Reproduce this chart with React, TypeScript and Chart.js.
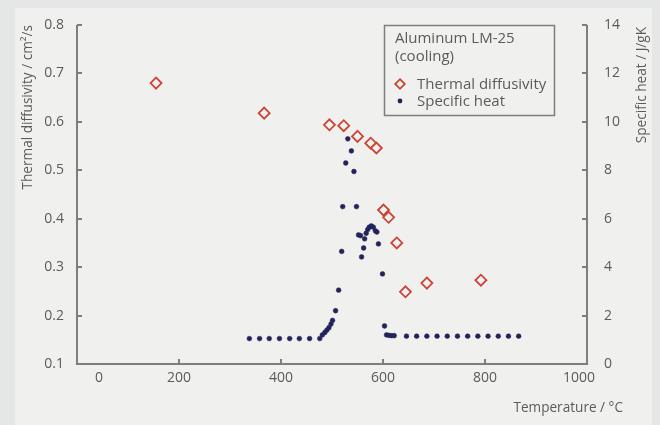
import React, { useEffect, useRef, useState } from "react";
import { Chart, registerables } from "chart.js";

Chart.register(...registerables);

// ---- data ----
const diffusivityTemps = [155, 367, 495, 523, 550, 576, 587, 601, 611, 627, 644, 686, 792];
const diffusivityValues = [0.68, 0.618, 0.594, 0.592, 0.57, 0.556, 0.546, 0.418, 0.403, 0.35, 0.249, 0.267, 0.273];

const heatTemps = [
  338, 358, 377, 397, 417, 436, 456, 476,
  481, 486, 490, 494, 498, 501, 507, 513, 519, 521, 527, 531, 538, 543, 548,
  552, 556, 558, 562, 564, 567, 570, 573, 577, 581, 585, 588, 591, 599,
  603, 607, 612, 617, 622,
  646, 666, 686, 706, 726, 746, 766, 786, 806, 826, 846, 866,
];
const heatValues = [
  1.05, 1.05, 1.05, 1.05, 1.05, 1.05, 1.05, 1.05,
  1.2, 1.3, 1.4, 1.5, 1.65, 1.8, 2.2, 3.05, 4.65, 6.5, 8.3, 9.3, 8.8, 7.95, 6.5,
  5.33, 5.3, 4.42, 4.79, 5.17, 5.4, 5.55, 5.65, 5.7, 5.65, 5.5, 5.45, 4.96, 3.72,
  1.57, 1.2, 1.18, 1.17, 1.17,
  1.15, 1.15, 1.15, 1.15, 1.15, 1.15, 1.15, 1.15, 1.15, 1.15, 1.15, 1.15,
];

const xTickValues = [0, 200, 400, 600, 800, 1000];
const xTickLabels = ["0", "200", "400", "600", "800", "1000"];
const yTickValues = [0.1, 0.2, 0.3, 0.4, 0.5, 0.6, 0.7, 0.8];
const y2TickValues = [0, 2, 4, 6, 8, 10, 12, 14];

const legendTitle = ["Aluminum LM-25", "(cooling)"];
const diffusivityLabel = "Thermal diffusivity";
const heatLabel = "Specific heat";
const xTitle = "Temperature / °C";
const yTitle = "Thermal diffusivity / cm²/s";
const y2Title = "Specific heat / J/gK";

// ---- styles ----
const FONT = '"Open Sans", "DejaVu Sans", sans-serif';
const TEXT = "#5b5b5b";
const AXIS = "#7e7e7e";
const RED = "#cc4436";
const NAVY = "#23235c";
const PANEL = "#f0f0ee";

type Geom = { L: number; R: number; T: number; B: number; xt: number[]; yt: number[]; y2t: number[] };

const measure = (chart: any): Geom => {
  const a = chart.chartArea;
  const sc = chart.scales;
  return {
    L: Math.round(a.left),
    R: Math.round(a.right),
    T: Math.round(a.top),
    B: Math.round(a.bottom),
    xt: xTickValues.map((v) => Math.round(sc.x.getPixelForValue(v))),
    yt: yTickValues.map((v) => Math.round(sc.y.getPixelForValue(v))),
    y2t: y2TickValues.map((v) => Math.round(sc.y2.getPixelForValue(v))),
  };
};

const axesPlugin = {
  id: "axesDecor",
  afterDatasetsDraw(chart: any) {
    const c = chart.ctx as CanvasRenderingContext2D;
    const g = measure(chart);
    c.save();
    c.fillStyle = AXIS;
    c.fillRect(g.L - 1, g.T, 2, g.B - g.T + 1);
    c.fillRect(g.R - 1, g.T, 2, g.B - g.T + 1);
    c.fillRect(g.L - 1, g.B - 1, g.R - g.L + 2, 2);
    g.xt.forEach((px) => c.fillRect(px - 1, g.B - 5, 2, 5));
    g.yt.forEach((py) => c.fillRect(g.L, py - 1, 5, 2));
    g.y2t.forEach((py) => c.fillRect(g.R - 5, py - 1, 5, 2));
    c.restore();
  },
};

const textPlugin = {
  id: "textDecor",
  afterDraw(chart: any) {
    const ctx = chart.ctx as CanvasRenderingContext2D;
    const sx = chart.scales.x;
    const area = chart.chartArea;
    ctx.save();

    // x tick labels
    ctx.fillStyle = TEXT;
    ctx.font = `14px ${FONT}`;
    ctx.textAlign = "center";
    ctx.textBaseline = "middle";
    xTickValues.forEach((v, i) => {
      let px = sx.getPixelForValue(v);
      if (i === 0) px += 22;
      if (i === xTickValues.length - 1) px -= 8;
      ctx.fillText(xTickLabels[i], px, area.bottom + 14);
    });

    // axis titles
    ctx.font = `13.6px ${FONT}`;
    ctx.textAlign = "right";
    ctx.textBaseline = "middle";
    ctx.fillText(xTitle, 623, 408);

    ctx.save();
    ctx.translate(28, area.top);
    ctx.rotate(-Math.PI / 2);
    ctx.textAlign = "right";
    ctx.fillText(yTitle, 0, 0);
    ctx.restore();

    ctx.save();
    ctx.translate(642, area.top + 2);
    ctx.rotate(-Math.PI / 2);
    ctx.textAlign = "right";
    ctx.fillText(y2Title, 0, 0);
    ctx.restore();

    // legend box
    ctx.strokeStyle = AXIS;
    ctx.lineWidth = 1.5;
    ctx.strokeRect(384.5, 25.5, 170, 90);
    ctx.fillStyle = TEXT;
    ctx.font = `15px ${FONT}`;
    ctx.textAlign = "left";
    ctx.textBaseline = "alphabetic";
    ctx.fillText(legendTitle[0], 395, 43);
    ctx.fillText(legendTitle[1], 395, 61);
    ctx.fillText(diffusivityLabel, 417, 89);
    ctx.fillText(heatLabel, 417, 106);

    // legend markers
    ctx.beginPath();
    const mx = 400, my = 84, r = 4.8;
    ctx.moveTo(mx, my - r);
    ctx.lineTo(mx + r, my);
    ctx.lineTo(mx, my + r);
    ctx.lineTo(mx - r, my);
    ctx.closePath();
    ctx.fillStyle = PANEL;
    ctx.fill();
    ctx.strokeStyle = RED;
    ctx.lineWidth = 1.8;
    ctx.stroke();

    ctx.beginPath();
    ctx.arc(400, 101, 2.4, 0, Math.PI * 2);
    ctx.fillStyle = NAVY;
    ctx.fill();

    ctx.restore();
  },
};

export default function App() {
  const ref = useRef<HTMLCanvasElement>(null);
  const [geom, setGeom] = useState<Geom | null>(null);

  useEffect(() => {
    const tickFont = { family: FONT, size: 14 };
    const chart = new Chart(ref.current as HTMLCanvasElement, {
      type: "scatter",
      data: {
        datasets: [
          {
            label: diffusivityLabel,
            data: diffusivityTemps.map((t, i) => ({ x: t, y: diffusivityValues[i] })),
            yAxisID: "y",
            pointStyle: "rectRot",
            pointRadius: 5.5,
            borderColor: RED,
            borderWidth: 1.8,
            backgroundColor: PANEL,
            showLine: false,
          },
          {
            label: heatLabel,
            data: heatTemps.map((t, i) => ({ x: t, y: heatValues[i] })),
            yAxisID: "y2",
            pointStyle: "circle",
            pointRadius: 2.4,
            borderWidth: 0.5,
            backgroundColor: NAVY,
            borderColor: NAVY,
            showLine: false,
          },
        ],
      },
      options: {
        responsive: false,
        animation: false,
        devicePixelRatio: 1,
        layout: { padding: { top: 25, left: 0, right: 0, bottom: 0 } },
        plugins: { legend: { display: false }, tooltip: { enabled: false } },
        scales: {
          x: {
            type: "linear",
            position: "bottom",
            min: 0,
            max: 1000,
            ticks: { display: false },
            grid: { display: false },
            border: { display: false },
            afterFit: (s: any) => {
              s.height = 61;
            },
          },
          y: {
            type: "linear",
            position: "left",
            min: 0.1,
            max: 0.8,
            ticks: {
              stepSize: 0.1,
              color: TEXT,
              font: tickFont,
              padding: 5,
              callback: (v: any) => Number(v).toFixed(1),
            },
            grid: { display: false },
            border: { display: false },
            afterFit: (s: any) => {
              s.width = 77;
            },
          },
          y2: {
            type: "linear",
            position: "right",
            min: 0,
            max: 14,
            ticks: { stepSize: 2, color: TEXT, font: tickFont, padding: 9 },
            grid: { display: false },
            border: { display: false },
            afterFit: (s: any) => {
              s.width = 73;
            },
          },
        },
      },
      plugins: [axesPlugin, textPlugin],
    } as any);

    setGeom(measure(chart));
    return () => chart.destroy();
  }, []);

  const line = (left: number, top: number, width: number, height: number, key: string) => (
    <div
      key={key}
      style={{ position: "absolute", left, top, width, height, background: AXIS }}
    />
  );

  return (
    <div
      style={{
        position: "fixed",
        left: 0,
        top: 0,
        width: 660,
        height: 425,
        background: "#e5e7e6",
        overflow: "hidden",
      }}
    >
      <div
        style={{
          position: "absolute",
          left: 15,
          top: 8,
          width: 637,
          height: 417,
          background: PANEL,
        }}
      />
      <canvas
        ref={ref}
        width={660}
        height={425}
        style={{ position: "absolute", left: 0, top: 0, width: 660, height: 425 }}
      />
      {geom && (
        <>
          {line(geom.L - 1, geom.T, 2, geom.B - geom.T + 1, "la")}
          {line(geom.R - 1, geom.T, 2, geom.B - geom.T + 1, "ra")}
          {line(geom.L - 1, geom.B - 1, geom.R - geom.L + 2, 2, "ba")}
          {geom.xt.map((px, i) => line(px - 1, geom.B - 5, 2, 5, "xt" + i))}
          {geom.yt.map((py, i) => line(geom.L, py - 1, 5, 2, "yt" + i))}
          {geom.y2t.map((py, i) => line(geom.R - 5, py - 1, 5, 2, "y2t" + i))}
        </>
      )}
    </div>
  );
}
